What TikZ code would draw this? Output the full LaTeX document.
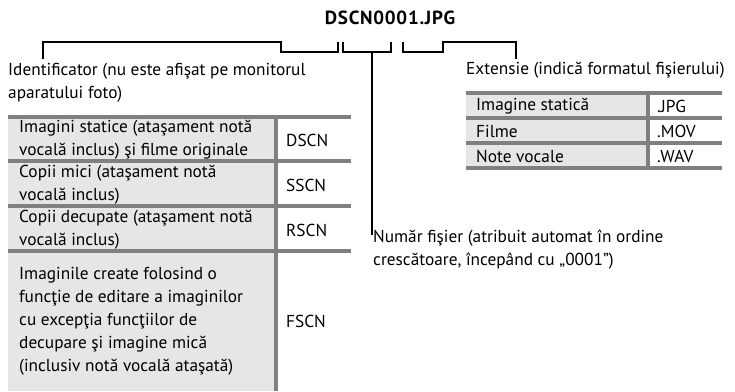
\documentclass[tikz,border=0pt]{standalone}
\usepackage{fontspec}
\setmainfont{PT Sans}
\newfontfamily\titlefont[LetterSpace=4]{PT Sans Bold}
\definecolor{cellgray}{HTML}{E6E6E6}
\definecolor{rulegray}{HTML}{808080}
\begin{document}
\begin{tikzpicture}[x=1pt,y=-1pt,
  txt/.style={inner sep=0pt,anchor=west,align=left,font=\fontsize{17.3}{23}\selectfont},
  code/.style={inner sep=0pt,anchor=west,font=\fontsize{17.3}{23}\selectfont},
  rule/.style={draw=rulegray,line width=4pt},
  brk/.style={draw=black,line width=1.8pt}]
\useasboundingbox (0,0) rectangle (735,391);
% title
\node[inner sep=0pt,font=\titlefont\fontsize{19}{21}\selectfont] (title) at (390,18) {DSCN0001.JPG};
% bracket coordinates
\coordinate (idEnd) at (43,59);
\coordinate (idCorner) at (43,42);
\coordinate (b1a) at (281,42);
\coordinate (b1b) at (281,52);
\coordinate (b1c) at (338,52);
\coordinate (b1d) at (338,42);
\coordinate (b2a) at (343,42);
\coordinate (b2b) at (343,52);
\coordinate (b2c) at (391,52);
\coordinate (b2d) at (391,42);
\coordinate (b2m) at (372,52);
\coordinate (numEnd) at (372,235);
\coordinate (b3a) at (403,42);
\coordinate (b3b) at (403,52);
\coordinate (b3c) at (443,52);
\coordinate (b3d) at (443,42);
\coordinate (extCorner) at (516,42);
\coordinate (extEnd) at (516,59);
\draw[brk] (idEnd) -- (idCorner) -- (b1a) -- (b1b) -- (b1c) -- (b1d);
\draw[brk] (b2a) -- (b2b) -- (b2c) -- (b2d);
\draw[brk] (b2m) -- (numEnd);
\draw[brk] (b3a) -- (b3b) -- (b3c) -- (b3d) -- (extCorner) -- (extEnd);
% labels
\node[txt,anchor=north west] (idlbl) at (8,63) {Identificator (nu este afişat pe monitorul\\aparatului foto)};
\node[txt,anchor=north west] (extlbl) at (466,62) {Extensie (indică formatul fişierului)};
\node[txt,anchor=north west] (numlbl) at (373,230) {Număr fişier (atribuit automat în ordine\\crescătoare, începând cu „0001”)};
% left table
\fill[cellgray] (8,117) rectangle (276,391);
\draw[rule] (276,117) -- (276,391);
\draw[rule] (8,117) -- (351,117);
\draw[rule] (8,161) -- (351,161);
\draw[rule] (8,206) -- (351,206);
\draw[rule] (8,251) -- (351,251);
\node[txt] (l1) at (19,140) {Imagini statice (ataşament notă\\vocală inclus) şi filme originale};
\node[code] (c1) at (286,140) {DSCN};
\node[txt] (l2) at (19,185) {Copii mici (ataşament notă\\vocală inclus)};
\node[code] (c2) at (286,185) {SSCN};
\node[txt] (l3) at (19,230) {Copii decupate (ataşament notă\\vocală inclus)};
\node[code] (c3) at (286,230) {RSCN};
\node[txt] (l4) at (19,321) {Imaginile create folosind o\\funcţie de editare a imaginilor\\cu excepţia funcţiilor de\\decupare şi imagine mică\\(inclusiv notă vocală ataşată)};
\node[code] (c4) at (286,321) {FSCN};
% right table
\fill[cellgray] (466,93) rectangle (648,168);
\draw[rule] (648,93) -- (648,168);
\draw[rule] (466,93) -- (722,93);
\draw[rule] (466,118) -- (722,118);
\draw[rule] (466,143) -- (722,143);
\draw[rule] (466,168) -- (722,168);
\node[code] (e1) at (476,106) {Imagine statică};
\node[code] (f1) at (657,106) {.JPG};
\node[code] (e2) at (476,131) {Filme};
\node[code] (f2) at (657,131) {.MOV};
\node[code] (e3) at (476,156) {Note vocale};
\node[code] (f3) at (657,156) {.WAV};
\end{tikzpicture}
\end{document}
